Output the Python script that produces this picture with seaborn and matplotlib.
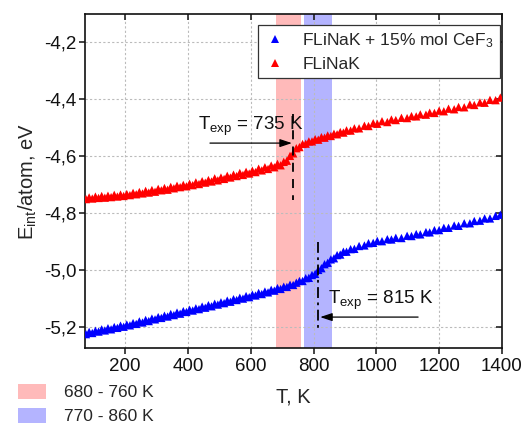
import numpy as np
import pandas as pd
import matplotlib
matplotlib.use("Agg")
import matplotlib.pyplot as plt
from matplotlib.lines import Line2D
from matplotlib.patches import Patch
import seaborn as sns

# Temperature grid of the heating runs, K
temperature = [
    75, 85, 95, 105, 115, 125, 135, 145, 155, 165, 175, 185, 195, 205, 215, 225,
    235, 245, 255, 265, 275, 285, 295, 305, 315, 325, 335, 345, 355, 365, 375, 385,
    395, 405, 415, 425, 435, 445, 455, 465, 475, 485, 495, 505, 515, 525, 535, 545,
    555, 565, 575, 585, 595, 605, 615, 625, 635, 645, 655, 665, 675, 685, 695,
    705, 715, 725, 735, 745, 755, 765, 775, 785, 795, 805, 815, 825, 835, 845, 855,
    865, 875, 885, 895,
    905, 918, 930, 945, 962, 975, 990, 1003, 1018, 1035, 1048, 1062, 1080, 1098,
    1112, 1127, 1140, 1158, 1170, 1185, 1200, 1215, 1230, 1248, 1262, 1280, 1298,
    1312, 1330, 1345, 1362, 1380, 1395,
]

# Internal energy per atom, eV: pure FLiNaK
e_flinak = [
    -4.751, -4.745, -4.749, -4.742, -4.747, -4.740, -4.746, -4.739, -4.744, -4.736,
    -4.742, -4.735, -4.740, -4.733, -4.737, -4.729, -4.734, -4.726, -4.731, -4.722,
    -4.728, -4.719, -4.725, -4.715, -4.720, -4.712, -4.718, -4.708, -4.713, -4.704,
    -4.709, -4.701, -4.706, -4.697, -4.702, -4.692, -4.698, -4.688, -4.693, -4.684,
    -4.689, -4.678, -4.685, -4.675, -4.680, -4.669, -4.675, -4.665, -4.670, -4.659,
    -4.666, -4.655, -4.661, -4.651, -4.656, -4.644, -4.650, -4.639, -4.645, -4.633,
    -4.639, -4.627, -4.632,
    -4.620, -4.616, -4.599, -4.590, -4.572, -4.568, -4.557, -4.556, -4.548, -4.548,
    -4.540, -4.542, -4.533, -4.535, -4.527, -4.529, -4.521, -4.523, -4.515, -4.517,
    -4.509, -4.510, -4.502, -4.502, -4.493, -4.494, -4.484, -4.486, -4.477, -4.480,
    -4.471, -4.473, -4.465, -4.466, -4.459, -4.460, -4.453, -4.454, -4.447, -4.448,
    -4.440, -4.442, -4.433, -4.435, -4.427, -4.428, -4.418, -4.420, -4.411, -4.412,
    -4.402, -4.403, -4.394,
]

# Internal energy per atom, eV: FLiNaK + 15% mol CeF3
e_flinak_cef3 = [
    -5.226, -5.218, -5.222, -5.214, -5.217, -5.209, -5.213, -5.205, -5.209, -5.201,
    -5.204, -5.196, -5.200, -5.192, -5.195, -5.187, -5.190, -5.181, -5.185, -5.176,
    -5.180, -5.171, -5.174, -5.166, -5.169, -5.161, -5.164, -5.155, -5.159, -5.150,
    -5.154, -5.145, -5.148, -5.140, -5.143, -5.135, -5.138, -5.129, -5.133, -5.124,
    -5.128, -5.119, -5.122, -5.114, -5.117, -5.108, -5.112, -5.103, -5.106, -5.098,
    -5.101, -5.092, -5.096, -5.087, -5.090, -5.081, -5.085, -5.076, -5.079, -5.070,
    -5.073, -5.064, -5.067,
    -5.059, -5.060, -5.052, -5.053, -5.045, -5.039, -5.039, -5.029, -5.028, -5.018,
    -5.014, -5.000, -4.994, -4.980, -4.975, -4.963, -4.959, -4.948, -4.946, -4.936,
    -4.936, -4.927, -4.926, -4.916, -4.914, -4.906, -4.905, -4.898, -4.899, -4.892,
    -4.893, -4.887, -4.888, -4.880, -4.881, -4.874, -4.875, -4.867, -4.868, -4.860,
    -4.860, -4.852, -4.852, -4.844, -4.845, -4.836, -4.836, -4.828, -4.827, -4.819,
    -4.819, -4.810, -4.806,
]

series_names = ["FLiNaK + 15% mol CeF$_3$", "FLiNaK"]
series_colors = ["#0000ff", "#ff0000"]

x_ticks = [200, 400, 600, 800, 1000, 1200, 1400]
y_ticks = [-5.2, -5.0, -4.8, -4.6, -4.4, -4.2]
y_tick_labels = ["-5,2", "-5,0", "-4,8", "-4,6", "-4,4", "-4,2"]

# Transition windows, K
range_flinak = (680, 760)
range_cef3 = (770, 860)
range_labels = ["680 - 760 K", "770 - 860 K"]
range_colors = ["#ffbaba", "#b4b4ff"]

# Experimental melting temperatures, K
t_exp_flinak = 735
t_exp_cef3 = 815

sns.set_theme(style="white")
plt.rcParams["font.family"] = ["Liberation Sans", "DejaVu Sans"]
plt.rcParams["mathtext.fontset"] = "custom"
plt.rcParams["mathtext.rm"] = "Liberation Sans"
plt.rcParams["mathtext.it"] = "Liberation Sans"

df = pd.DataFrame({
    "T": temperature * 2,
    "E": e_flinak_cef3 + e_flinak,
    "system": [series_names[0]] * len(temperature) + [series_names[1]] * len(temperature),
})

fig = plt.figure(figsize=(5.25, 4.25), dpi=100)
ax = fig.add_axes([0.162, 0.181, 0.794, 0.786])

ax.axvspan(*range_flinak, color=range_colors[0], lw=0, zorder=0)
ax.axvspan(*range_cef3, color=range_colors[1], lw=0, zorder=0)

sns.scatterplot(data=df, x="T", y="E", hue="system", hue_order=series_names,
                palette=series_colors, marker="^", s=36, linewidth=0,
                legend=False, ax=ax, zorder=3)

ax.set_xlim(72, 1400)
ax.set_ylim(-5.275, -4.10)
ax.set_xticks(x_ticks)
ax.set_yticks(y_ticks)
ax.set_yticklabels(y_tick_labels)
ax.grid(True, color="#bbbbbb", linestyle=(0, (2, 2)), linewidth=0.8)
ax.set_axisbelow(True)
for sp in ax.spines.values():
    sp.set_color("#111111")
    sp.set_linewidth(1.2)
ax.tick_params(axis="both", which="major", labelsize=13.5, colors="#111111",
               length=4, width=1.1, direction="out", bottom=True, left=True)
ax.tick_params(axis="x", top=True, pad=3)
ax.tick_params(axis="y", right=True, pad=2)
for t in ax.xaxis.get_major_ticks():
    t.tick2line.set_marker(3)  # inward on top
for t in ax.yaxis.get_major_ticks():
    t.tick2line.set_marker(0)  # inward on right
ax.set_xlabel("T, K", fontsize=14.5, labelpad=9)
ax.set_ylabel(r"E$_{\mathregular{int}}$/atom, eV", fontsize=14.5, labelpad=4)

# Melting point markers
ax.plot([t_exp_flinak, t_exp_flinak], [-4.45, -4.755], color="black", lw=1.3,
        linestyle=(0, (5, 4)), zorder=4)
ax.plot([t_exp_cef3, t_exp_cef3], [-4.902, -5.205], color="black", lw=1.3,
        linestyle=(0, (6, 2.5, 1.5, 2.5)), zorder=4)
ax.annotate("", xy=(t_exp_flinak - 4, -4.554), xytext=(470, -4.554),
            arrowprops=dict(arrowstyle="-|>,head_length=0.6,head_width=0.2",
                            color="black", lw=0.9,
                            mutation_scale=12, shrinkA=0, shrinkB=0), zorder=5)
ax.text(432, -4.497, r"T$_{\mathregular{exp}}$ = 735 K", fontsize=13.5,
        ha="left", va="center", color="#111111")
ax.annotate("", xy=(t_exp_cef3 + 6, -5.166), xytext=(1133, -5.166),
            arrowprops=dict(arrowstyle="-|>,head_length=0.6,head_width=0.2",
                            color="black", lw=0.9,
                            mutation_scale=12, shrinkA=0, shrinkB=0), zorder=5)
ax.text(845, -5.107, r"T$_{\mathregular{exp}}$ = 815 K", fontsize=13.5,
        ha="left", va="center", color="#111111")

handles = [Line2D([], [], linestyle="none", marker="^", markersize=6,
                  markerfacecolor=c, markeredgewidth=0) for c in series_colors]
leg = ax.legend(handles, series_names, loc="upper right",
                bbox_to_anchor=(0.995, 0.967), fontsize=12.5, frameon=True,
                fancybox=False, edgecolor="#333333", framealpha=1,
                borderpad=0.35, labelspacing=0.4, handlelength=1.2,
                handletextpad=1.0, borderaxespad=0.0)
leg.get_frame().set_linewidth(0.9)

range_handles = [Patch(facecolor=c, edgecolor="none") for c in range_colors]
fig.legend(range_handles, range_labels, loc="upper left",
           bbox_to_anchor=(0.035, 0.097), fontsize=12.5, frameon=False,
           handlelength=1.6, handleheight=0.95, handletextpad=1.0,
           labelspacing=0.45, borderaxespad=0.0, borderpad=0.0)

fig.savefig("out.png", dpi=100)
